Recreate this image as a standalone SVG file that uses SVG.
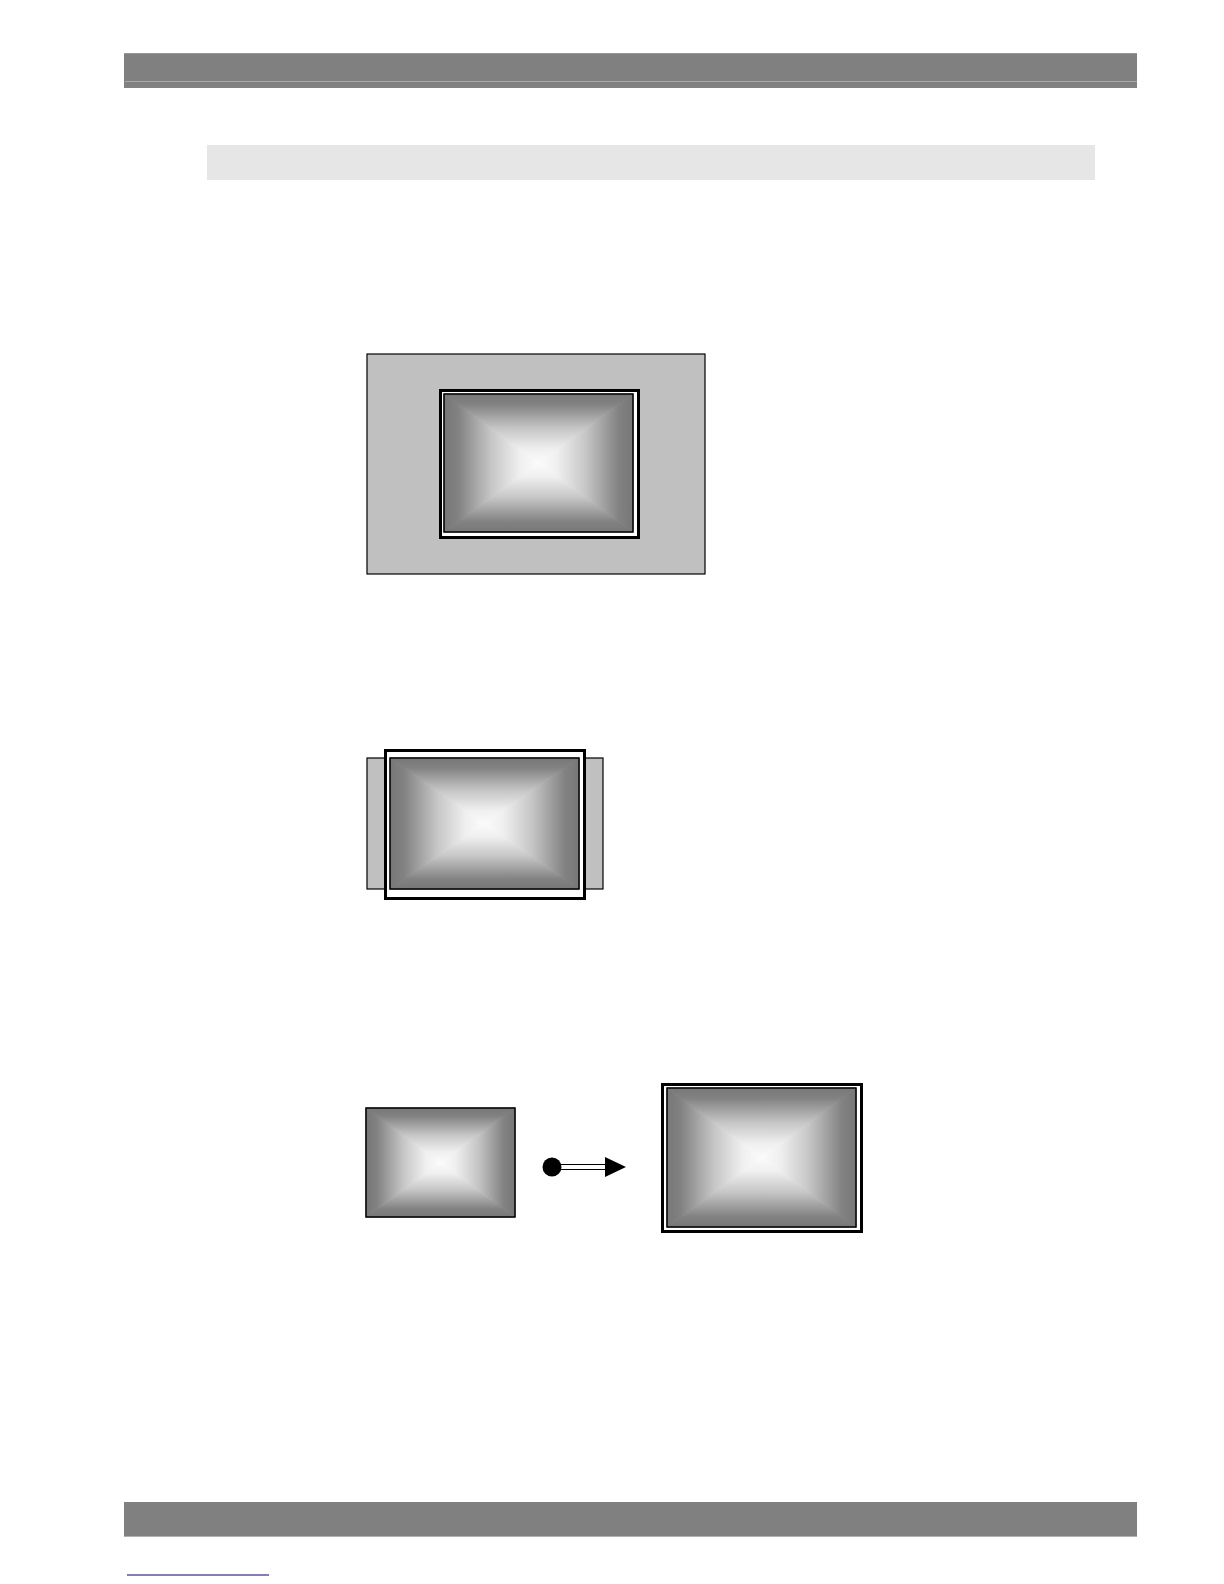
<svg xmlns="http://www.w3.org/2000/svg" width="1224" height="1584" viewBox="0 0 1224 1584">
<style>
.bar{fill:#808080}
.gray{fill:#c0c0c0;stroke:#000;stroke-width:1.2}
.frame{fill:#fff;stroke:#000;stroke-width:3}
.edge{fill:none;stroke:#000;stroke-width:1.5}
.t{fill:url(#gT);stroke:url(#gT);stroke-width:1}
.b{fill:url(#gB);stroke:url(#gB);stroke-width:1}
.l{fill:url(#gL);stroke:url(#gL);stroke-width:1}
.r{fill:url(#gR);stroke:url(#gR);stroke-width:1}
</style>
<defs>
<linearGradient id="gT" x1="0" y1="0" x2="0" y2="1">
<stop offset="0" stop-color="#777"/><stop offset="0.15" stop-color="#828282"/><stop offset="0.5" stop-color="#c6c6c6"/><stop offset="0.8" stop-color="#efefef"/><stop offset="1" stop-color="#fbfbfb"/>
</linearGradient>
<linearGradient id="gB" x1="0" y1="1" x2="0" y2="0">
<stop offset="0" stop-color="#777"/><stop offset="0.15" stop-color="#828282"/><stop offset="0.5" stop-color="#c6c6c6"/><stop offset="0.8" stop-color="#efefef"/><stop offset="1" stop-color="#fbfbfb"/>
</linearGradient>
<linearGradient id="gL" x1="0" y1="0" x2="1" y2="0">
<stop offset="0" stop-color="#777"/><stop offset="0.15" stop-color="#828282"/><stop offset="0.5" stop-color="#c6c6c6"/><stop offset="0.8" stop-color="#efefef"/><stop offset="1" stop-color="#fbfbfb"/>
</linearGradient>
<linearGradient id="gR" x1="1" y1="0" x2="0" y2="0">
<stop offset="0" stop-color="#777"/><stop offset="0.15" stop-color="#828282"/><stop offset="0.5" stop-color="#c6c6c6"/><stop offset="0.8" stop-color="#efefef"/><stop offset="1" stop-color="#fbfbfb"/>
</linearGradient>
</defs>

<g id="header">
<rect class="bar" x="124" y="53" width="1013" height="35"/>
<line x1="124" y1="53.5" x2="1137" y2="53.5" stroke="#999" stroke-width="1"/>
<line x1="125" y1="81.5" x2="1137" y2="81.5" stroke="#a8a8a8" stroke-width="1"/>
</g>
<g id="title-bar">
<rect x="207" y="145" width="888" height="35" fill="#e6e6e6"/>
</g>

<!-- Diagram 1 -->
<g id="screen1">
<rect class="gray" x="367" y="354" width="338" height="220"/>
<rect class="frame" x="440.5" y="390.5" width="198" height="147"/>
<g id="image1">
<polygon class="t" points="444,394 633,394 538.5,463"/>
<polygon class="b" points="444,532 633,532 538.5,463"/>
<polygon class="l" points="444,394 444,532 538.5,463"/>
<polygon class="r" points="633,394 633,532 538.5,463"/>
<rect class="edge" x="444" y="394" width="189" height="138" stroke-width="1"/>
</g>
</g>

<!-- Diagram 2 -->
<g id="screen2">
<rect class="gray" x="367" y="758" width="236" height="131"/>
<rect class="frame" x="385.5" y="750.5" width="199" height="148"/>
<g id="image2">
<polygon class="t" points="390,758 579,758 484.5,823.5"/>
<polygon class="b" points="390,889 579,889 484.5,823.5"/>
<polygon class="l" points="390,758 390,889 484.5,823.5"/>
<polygon class="r" points="579,758 579,889 484.5,823.5"/>
<rect class="edge" x="390" y="758" width="189" height="131" stroke-width="1"/>
</g>
</g>

<!-- Diagram 3 -->
<g id="source-image">
<polygon class="t" points="366,1108 515,1108 440.5,1162.5"/>
<polygon class="b" points="366,1217 515,1217 440.5,1162.5"/>
<polygon class="l" points="366,1108 366,1217 440.5,1162.5"/>
<polygon class="r" points="515,1108 515,1217 440.5,1162.5"/>
<rect class="edge" x="366" y="1108" width="149" height="109"/>
</g>

<g id="target-image">
<rect class="frame" x="662.5" y="1084.5" width="199" height="147"/>
<polygon class="t" points="667,1088 856,1088 761.5,1157.5"/>
<polygon class="b" points="667,1227 856,1227 761.5,1157.5"/>
<polygon class="l" points="667,1088 667,1227 761.5,1157.5"/>
<polygon class="r" points="856,1088 856,1227 761.5,1157.5"/>
<rect class="edge" x="667" y="1088" width="189" height="139" stroke-width="1"/>
</g>

<g id="connectors">
<circle cx="552" cy="1167" r="9.5" fill="#000"/>
<line x1="556" y1="1164.5" x2="606" y2="1164.5" stroke="#000" stroke-width="1.2"/>
<line x1="556" y1="1169.5" x2="606" y2="1169.5" stroke="#000" stroke-width="1.2"/>
<polygon points="605,1157 626,1167 605,1177" fill="#000"/>
</g>

<g id="footer">
<rect class="bar" x="124" y="1502" width="1013" height="34"/>
<line x1="124" y1="1536.5" x2="1137" y2="1536.5" stroke="#b0b0b0" stroke-width="1"/>
<line x1="127" y1="1575" x2="269" y2="1575" stroke="#000080" stroke-width="1"/>
</g>
</svg>
